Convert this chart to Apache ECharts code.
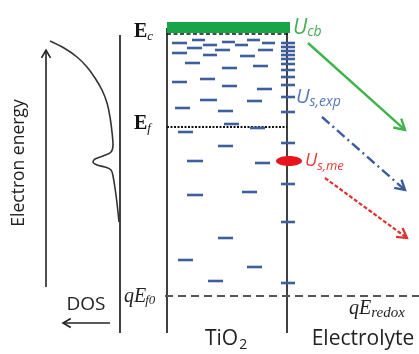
<!DOCTYPE html>
<html><head><meta charset="utf-8">
<script src="https://cdn.jsdelivr.net/npm/echarts@6/dist/echarts.min.js"></script>
<style>html,body{margin:0;padding:0;background:#fff}#c{width:419px;height:354px}</style>
</head><body><div id="c"></div>
<script>
// ---- data (diagram units: x = position, y = energy level from top) ----
const trapLevels = [
  [172,187,43],[192,205,40],[187,202,48],[203,217,45],[222,235,42],[215,230,50],
  [235,248,45],[247,260,40],[262,275,43],[258,273,50],[172,187,53],[203,217,55],
  [240,255,56],[185,200,63],[222,237,68],[253,268,66],[172,187,82],[200,215,79],
  [222,237,86],[257,272,89],[200,217,100],[247,262,101],[175,190,108],[218,233,111],
  [224,239,124],[250,265,128],[178,193,132],[218,233,146],[187,203,161],[255,270,163],
  [187,203,195],[242,257,192],[218,233,238],[178,193,260],[247,262,267],[208,223,281]
];
const surfaceLevels = [43,47,51,55,59,64,70,77,85,97,112,143,184,222,283];
const dosCurve = [
  [50,41],[64,48],[77,57],[87,67],[95,78],[102,90],[107,103],[110,117],[112,132],
  [113,145],[111,152],[103,156],[95,159],[93,162],[97,165],[105,167],[111,170],
  [113,176],[115,188],[117,203],[119,222]
];
const frameLines = [[120,35,120,333],[167,28,167,333],[287,33,287,333]];
const conductionBand = [167,290,22,33];
const ecLevel = [167,34,288,34];
const efLevel = [167,127,287,127];
const redoxLevel = [165,296,419,296];
const usMe = [289,161];
const axisArrows = [[46,287,46,50],[110,323,63,323]];
const greenArrow = [[308,43,405,130]];
const blueArrow = [[322,117,405,190]];
const redArrow = [[325,178,407,238]];

// ---- rendering helpers ----
function segSeries(data, style){
  return {type:'custom', silent:true, data:data, clip:false,
    renderItem:function(p,api){
      const a=api.coord([api.value(0),api.value(1)]);
      const b=api.coord([api.value(2),api.value(3)]);
      return {type:'line',shape:{x1:a[0],y1:a[1],x2:b[0],y2:b[1]},style:Object.assign({fill:null},style)};
    }};
}
function arrowSeries(data, style, head){
  return {type:'custom', silent:true, data:data, clip:false,
    renderItem:function(p,api){
      const a=api.coord([api.value(0),api.value(1)]);
      const b=api.coord([api.value(2),api.value(3)]);
      const ang=Math.atan2(b[1]-a[1],b[0]-a[0]);
      const L=head, w=Math.PI/6;
      const h1=[b[0]-L*Math.cos(ang-w), b[1]-L*Math.sin(ang-w)];
      const h2=[b[0]-L*Math.cos(ang+w), b[1]-L*Math.sin(ang+w)];
      return {type:'group',children:[
        {type:'line',shape:{x1:a[0],y1:a[1],x2:b[0]-2*Math.cos(ang),y2:b[1]-2*Math.sin(ang)},style:Object.assign({fill:null},style)},
        {type:'polyline',shape:{points:[h1,b,h2]},style:{stroke:style.stroke,lineWidth:style.lineWidth,fill:null,lineJoin:'miter'}}
      ]};
    }};
}

const traps = trapLevels.map(t=>[t[0],t[2],t[1],t[2]]);
const series = [
  segSeries(frameLines,{stroke:'#2b2b2b',lineWidth:1.8}),
  {type:'custom',silent:true,data:[conductionBand],renderItem:function(p,api){
    const a=api.coord([api.value(0),api.value(2)]);const b=api.coord([api.value(1),api.value(3)]);
    return {type:'rect',shape:{x:a[0],y:a[1],width:b[0]-a[0],height:b[1]-a[1]},style:{fill:'#17a547'}};}},
  segSeries([ecLevel],{stroke:'#111',lineWidth:1.6,lineDash:[4,2.5]}),
  segSeries([efLevel],{stroke:'#111',lineWidth:2.2,lineDash:[2,1.5]}),
  segSeries([redoxLevel],{stroke:'#555',lineWidth:2,lineDash:[8,5]}),
  segSeries(traps,{stroke:'#3e5e9e',lineWidth:2.6}),
  {type:'custom',silent:true,data:surfaceLevels.map(v=>[287,v]),renderItem:function(p,api){
    const a=api.coord([api.value(0),api.value(1)]);
    return {type:'line',shape:{x1:a[0]-6,y1:a[1],x2:a[0]+8,y2:a[1]},style:{stroke:'#3e5e9e',lineWidth:2.6}};}},
  {type:'line',data:dosCurve,smooth:0.35,symbol:'none',silent:true,lineStyle:{color:'#333',width:1.6}},
  {type:'custom',silent:true,data:[usMe],renderItem:function(p,api){
    const a=api.coord([api.value(0),api.value(1)]);
    return {type:'ellipse',shape:{cx:a[0],cy:a[1],rx:13,ry:5},style:{fill:'#e8141c'}};}},
  arrowSeries(axisArrows,{stroke:'#222',lineWidth:1.6},9),
  arrowSeries(greenArrow,{stroke:'#3db54b',lineWidth:2.4},12),
  arrowSeries(blueArrow,{stroke:'#3b5b9b',lineWidth:2.4,lineDash:[10,4,2,4]},11),
  arrowSeries(redArrow,{stroke:'#e2302f',lineWidth:2.2,lineDash:[4,2]},11)
];

const serif='"Liberation Serif","DejaVu Serif",serif';
const sans='"Open Sans","Noto Sans",sans-serif';
const mctx=document.createElement('canvas').getContext('2d');
function measure(text,font){mctx.font=font;return mctx.measureText(text).width;}
function txt(x,y,text,font,fill,align,va,extra){
  return Object.assign({type:'text',x:x,y:y,silent:true,style:{text:text,font:font,fill:fill,textAlign:align||'left',textVerticalAlign:va||'middle'}},extra||{});
}
// main text + subscript placed right after it
function withSub(x,y,main,sub,font,subFont,fill,dy,gap){
  const w=measure(main,font);
  return [txt(x,y,main,font,fill),txt(x+w+(gap||0),y+dy,sub,subFont,fill)];
}
const graphics = [].concat(
  [txt(19,163,'Electron energy','17.5px '+sans,'#222','center','middle',{rotation:Math.PI/2}),
   txt(86,305,'DOS','19px '+sans,'#222','center','middle'),
   txt(363,339,'Electrolyte','21px '+sans,'#222','center','middle')],
  withSub(134,32,'E','c','bold 20px '+serif,'italic 13px '+serif,'#111',5,0),
  withSub(134,124,'E','f','bold 20px '+serif,'italic 13px '+serif,'#111',5,0),
  withSub(124,297,'qE','f0','italic 20px '+serif,'italic 13px '+serif,'#222',4,-1),
  withSub(349,309,'qE','redox','italic 20px '+serif,'italic 15px '+serif,'#222',4,0),
  withSub(205,339,'TiO','2','21px '+sans,'14px '+sans,'#222',6,1),
  withSub(293,28,'U','cb','italic 21px '+sans,'italic 14px '+sans,'#43ad52',4,0),
  withSub(296,97,'U','s,exp','italic 20px '+sans,'italic 14px '+sans,'#5277bb',5,0),
  withSub(305,161,'U','s,me','italic 18px '+sans,'italic 13px '+sans,'#e23b3b',5,0)
);

const chart = echarts.init(document.getElementById('c'),null,{renderer:'canvas'});
chart.setOption({
  animation:false,
  backgroundColor:'#fff',
  grid:{left:0,right:0,top:0,bottom:0},
  xAxis:{type:'value',min:0,max:419,show:false},
  yAxis:{type:'value',min:0,max:354,inverse:true,show:false},
  series:series,
  graphic:graphics
});
</script></body></html>
